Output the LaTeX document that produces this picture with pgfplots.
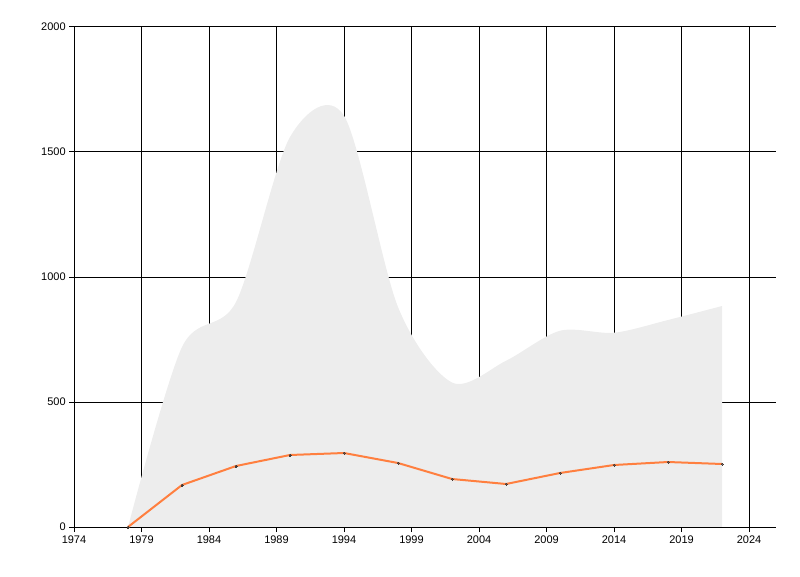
\documentclass[border=0pt]{standalone}
\usepackage{pgfplots}
\pgfplotsset{compat=1.18}
\usepackage{fontspec}
\setmainfont{Liberation Sans}
\definecolor{areagray}{RGB}{237,237,237}
\definecolor{lineorange}{RGB}{255,127,63}
\definecolor{markdark}{RGB}{70,60,55}
\begin{document}
\begin{tikzpicture}
\useasboundingbox (0,0) rectangle (600pt,432pt);
\begin{axis}[
  at={(55.5pt,36.75pt)}, anchor=south west,
  scale only axis, width=526.5pt, height=375pt,
  xmin=1974, xmax=2026, ymin=0, ymax=2000,
  axis x line=bottom, axis y line=left,
  x axis line style={-}, y axis line style={-},
  axis line style={black, line width=0.75pt},
  xtick={1974,1979,...,2024}, ytick={0,500,1000,1500,2000},
  grid=major, major grid style={black, line width=0.75pt},
  tick align=outside, major tick length=3.75pt,
  tick style={black, line width=0.75pt},
  /pgf/number format/assume math mode=true,
  /pgf/number format/1000 sep={},
  tick label style={font=\fontsize{8.25}{10}\selectfont},
  xticklabel style={yshift=1pt},
  yticklabel style={xshift=1pt},
]
\addplot[fill=areagray, draw=none, smooth, tension=0.5] coordinates {
(1978,0) (1982,720) (1986,900) (1990,1560) (1994,1645) (1998,880) (2002,578) (2006,665) (2010,785) (2014,777) (2018,828) (2022,884)
} \closedcycle;
\draw[black, line width=0.75pt] (axis cs:1974,0) -- (axis cs:2026,0);
\addplot[lineorange, line width=1.5pt, mark=*, mark size=0.75pt, mark options={fill=markdark, draw=markdark, line width=0pt}] coordinates {
(1978,0) (1982,168) (1986,244) (1990,288) (1994,296) (1998,256) (2002,192) (2006,172) (2010,216) (2014,248) (2018,260) (2022,252)
};
\end{axis}
\end{tikzpicture}
\end{document}
